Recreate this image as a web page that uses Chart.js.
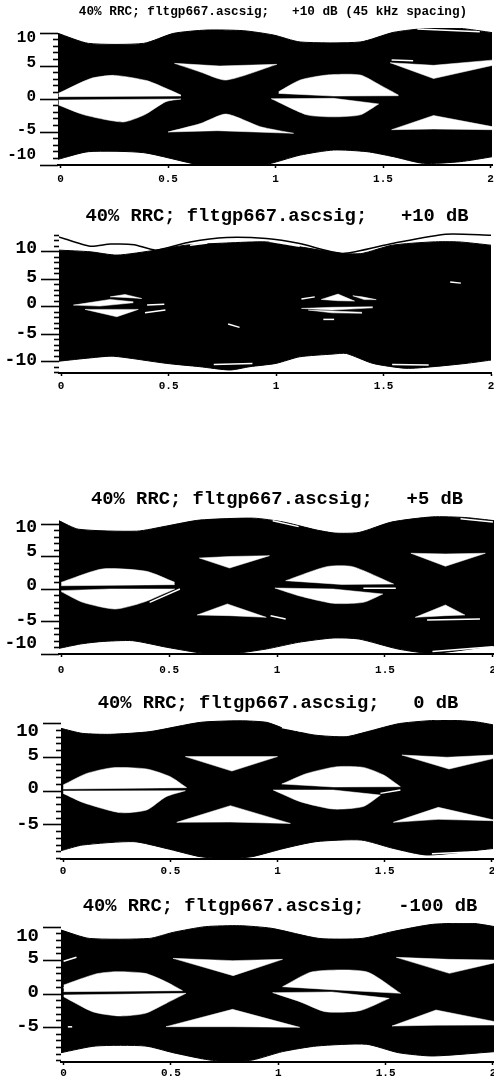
<!DOCTYPE html>
<html><head><meta charset="utf-8">
<script src="https://cdn.jsdelivr.net/npm/chart.js@4"></script>
<style>html,body{margin:0;padding:0;background:#fff;overflow:hidden;width:494px;height:1078px}canvas{position:absolute;left:0}</style>
</head><body>
<script>
// ---------- tick labels and titles ----------
const xTickValues = [0, 0.5, 1, 1.5, 2];
const p1Title = '40% RRC; fltgp667.ascsig;   +10 dB (45 kHz spacing)';
const p2Title = '40% RRC; fltgp667.ascsig;   +10 dB';
const p3Title = '40% RRC; fltgp667.ascsig;   +5 dB';
const p4Title = '40% RRC; fltgp667.ascsig;   0 dB';
const p5Title = '40% RRC; fltgp667.ascsig;   -100 dB';
const yLabelsFive = [10, 5, 0, -5, -10];
const yLabelsFour = [10, 5, 0, -5];

// ---------- panel 1 ----------
const p1OuterTop = [[-.012,9.95],[.13,8.43],[.386,8.43],[.526,9.95],[.68,10.45],[.851,10.35],[.99,9.7],[1.115,8.64],[1.394,8.64],[1.549,10.1],[1.704,10.7],[1.859,10.7],[2.01,10.05]];
const p1OuterBottom = [[-.012,-9.14],[.13,-7.98],[.386,-8.13],[.65,-10],[.774,-10],[.944,-10],[1.115,-8.5],[1.27,-7.73],[1.425,-7.98],[1.549,-8.74],[1.688,-9.75],[1.859,-9.5],[2.01,-8.74]];
const p1Holes = [
 [[[-.01,.86],[.14,3.1],[.25,3.58],[.40,2.79],[.49,1.62],[.56,.6]], [[-.01,.35],[.56,.45]]],
 [[[-.01,-.15],[.56,0]], [[-.01,-.9],[.11,-2.4],[.29,-3.48],[.39,-2.4],[.49,-.4],[.56,0]]],
 [[[.53,5.4],[.74,5.0],[1.006,5.25]], [[.53,5.4],[.65,4.1],[.77,2.87],[1.006,5.25]]],
 [[[.50,-5],[.65,-3.73],[.77,-2.28],[.93,-4.2],[1.084,-5.2]], [[.50,-5],[.73,-4.8],[1.084,-5.2]]],
 [[[1.014,1.1],[1.115,2.88],[1.24,3.64],[1.394,3.64],[1.487,2.1],[1.572,.6]], [[1.014,.85],[1.27,.45],[1.572,.5]]],
 [[[.98,.05],[1.27,.1],[1.48,-.75]], [[.98,.05],[1.146,-2.4],[1.27,-2.7],[1.394,-2.4],[1.48,-.75]]],
 [[[1.533,5.5],[1.735,5.1],[2.01,5.9]], [[1.533,5.5],[1.735,3.1],[2.01,5.1]]],
 [[[1.54,-4.65],[1.735,-2.5],[2.01,-4.2]], [[1.54,-4.65],[1.735,-4.55],[2.01,-4.65]]]
];
const p1Streaks = [[[1.66,10.6],[1.95,10.2]],[[1.54,5.9],[1.64,5.8]],[[.1,-9.3],[-.01,-9.7]]];
const p1Lines = [];

// ---------- panel 2 ----------
const p2OuterTop = [[-.01,10.3],[.135,10],[.26,9.4],[.44,10.3],[.58,11.2],[.77,11.6],[.955,11.8],[1.11,10.9],[1.31,9.7],[1.40,9.7],[1.54,11.2],[1.73,11.8],[1.85,11.8],[2.0,11.2]];
const p2OuterBottom = [[-.01,-9.9],[.135,-9.3],[.243,-9],[.49,-10.3],[.645,-10.9],[.785,-11.5],[.878,-10.9],[1.0,-10.3],[1.11,-9.1],[1.265,-8.6],[1.327,-8.5],[1.45,-10.3],[1.605,-11.2],[1.73,-10.9],[1.884,-10.3],[2.0,-9.7]];
const p2Holes = [
 [[[.057,.3],[.228,1.33],[.336,.9]], [[.057,.3],[.18,.12],[.336,.73]]],
 [[[.111,-.48],[.359,-.48]], [[.111,-.48],[.259,-1.82],[.359,-.48]]],
 [[[.228,1.8],[.297,2.24],[.375,1.5]], [[.228,1.8],[.297,1.7],[.375,1.5]]],
 [[[1.21,1.33],[1.288,2.3],[1.365,1.03]], [[1.21,1.33],[1.288,1.1],[1.365,1.03]]],
 [[[1.357,2],[1.4,1.8],[1.466,1.3]], [[1.357,2],[1.41,1.3],[1.466,1.3]]],
 [[[1.118,-.3],[1.26,-.1],[1.45,0]], [[1.118,-.3],[1.26,-.6],[1.45,-.2]]],
 [[[1.15,-.6],[1.4,-1]], [[1.15,-.6],[1.26,-1.1],[1.4,-1.2]]]
];
const p2Streaks = [[[.40,.3],[.48,.45]],[[.39,-1.1],[.485,-.6]],[[.777,-3.15],[.83,-3.75]],[[1.118,1.4],[1.18,1.8]],[[1.22,-2.3],[1.27,-2.3]],[[.71,-10.5],[.89,-10.3]],[[1.54,-10.5],[1.71,-10.6]],[[.6,11.2],[.68,11.6]],[[.97,11.9],[1.11,11]],[[1.81,4.5],[1.86,4.3]]];
const p2Lines = [[[-.01,12.7],[.135,11],[.23,11.4],[.34,11.3],[.44,10.3],[.60,11.8],[.77,12.6],[.955,12.4],[1.11,11.5],[1.31,9.7],[1.54,11.5],[1.79,13.2],[2.0,13]]];

// ---------- panel 3 ----------
const p3OuterTop = [[-.01,10.5],[.08,9.2],[.35,8.9],[.49,9.7],[.64,10.6],[.89,10.9],[1.03,10.3],[1.18,9.1],[1.27,8.6],[1.38,8.7],[1.53,10.3],[1.72,11.1],[1.87,11],[2.01,10.5]];
const p3OuterBottom = [[-.01,-9.13],[.09,-8.46],[.18,-8.1],[.33,-7.95],[.49,-8.97],[.66,-9.9],[.78,-10],[.95,-9.23],[1.10,-8.2],[1.26,-7.54],[1.38,-7.7],[1.56,-9.23],[1.72,-9.9],[2.01,-8.7]];
const p3Holes = [
 [[[0,1.03],[.19,3.08],[.395,2.72],[.526,1.03]], [[0,.5],[.526,.67]]],
 [[[0,-.25],[.226,0],[.526,0]], [[0,-.4],[.1,-2.05],[.25,-3.08],[.38,-2.05],[.526,0]]],
 [[[.64,4.77],[.78,5],[.965,5.13]], [[.64,4.77],[.78,3.23],[.965,5.13]]],
 [[[.63,-4],[.77,-2.3],[.95,-4.36]], [[.63,-4],[.78,-4.1],[.95,-4.36]]],
 [[[1.04,1.28],[1.23,3.44],[1.35,3.44],[1.54,.77]], [[1.04,1.28],[1.3,.7],[1.54,.77]]],
 [[[.99,.15],[1.26,0],[1.49,-.77]], [[.99,.15],[1.10,-1.03],[1.26,-2.2],[1.40,-2.05],[1.49,-.77]]],
 [[[1.62,5.5],[1.78,5.4],[1.965,5.5]], [[1.62,5.5],[1.78,3.5],[1.965,5.5]]],
 [[[1.64,-4.36],[1.78,-2.46],[1.87,-4]], [[1.64,-4.36],[1.78,-4.1],[1.87,-4]]]
];
const p3Streaks = [[[.41,-2.05],[.55,0]],[[.97,-4.1],[1.04,-4.6]],[[1.4,.1],[1.55,.1]],[[1.695,-4.75],[1.94,-4.6]],[[.98,10.5],[1.1,9.6]],[[1.85,10.8],[2.0,10.3]],[[1.72,-9.6],[2.0,-8.9]]];
const p3Lines = [];

// ---------- panel 4 ----------
const p4OuterTop = [[-.01,9.28],[.09,8.54],[.22,8.4],[.405,8.8],[.64,10.17],[.825,10.4],[.95,10.17],[1.03,9.28],[1.17,8.3],[1.32,8.05],[1.42,8.8],[1.57,10],[1.76,10.5],[1.92,10.27],[2.01,9.78]];
const p4OuterBottom = [[-.01,-8.84],[.09,-8],[.33,-7.5],[.48,-8.5],[.64,-9.73],[.763,-10],[.88,-9.73],[1.03,-8.5],[1.18,-7.5],[1.39,-7.26],[1.54,-8.5],[1.70,-9.48],[2.01,-8.5]];
const p4Holes = [
 [[[0,.9],[.11,2.6],[.234,3.46],[.39,3.26],[.5,2.12],[.576,.5]], [[0,.3],[.576,.5]]],
 [[[0,0],[.57,.05]], [[0,-.35],[.095,-1.73],[.265,-3.2],[.39,-2.8],[.48,-.84],[.57,.05]]],
 [[[.57,5.1],[1.0,5.1]], [[.57,5.1],[.787,2.96],[1.0,5.1]]],
 [[[.53,-4.64],[.78,-2.17],[1.06,-4.8]], [[.53,-4.64],[.78,-4.6],[1.06,-4.8]]],
 [[[1.02,1.04],[1.137,2.6],[1.277,3.6],[1.40,3.5],[1.495,2.37],[1.573,.64]], [[1.02,1.04],[1.26,.6],[1.573,.64]]],
 [[[.98,.15],[1.26,.15],[1.48,-.6]], [[.98,.15],[1.106,-1.58],[1.26,-2.67],[1.40,-2.3],[1.48,-.6]]],
 [[[1.58,5.33],[1.79,5],[2.01,5.33]], [[1.58,5.33],[1.8,3.26],[2.01,4.84]]],
 [[[1.54,-4.64],[1.75,-2.42],[2.01,-4.3]], [[1.54,-4.64],[1.75,-4.2],[2.01,-4.4]]]
];
const p4Streaks = [[[1.48,-.35],[1.573,.15]],[[1.02,9.4],[1.12,8.8]],[[1.72,-9.3],[2.0,-8.9]]];
const p4Lines = [];

// ---------- panel 5 ----------
const p5OuterTop = [[-.012,9.55],[.12,8.3],[.4,8.3],[.51,9.2],[.66,10.05],[.82,10.2],[.97,9.8],[1.19,8.3],[1.39,8.3],[1.53,9.3],[1.72,10.4],[1.905,10.55],[2.01,10.05]];
const p5OuterBottom = [[-.012,-8.76],[.15,-7.76],[.38,-7.76],[.51,-8.76],[.66,-9.75],[.756,-10.1],[.88,-9.85],[1.02,-8.6],[1.18,-7.76],[1.41,-7.5],[1.56,-8.76],[1.72,-9.25],[2.01,-8.6]];
const p5Holes = [
 [[[0,1.34],[.15,2.99],[.244,3.33],[.38,3.08],[.477,1.84],[.554,.5]], [[0,.35],[.554,.5]]],
 [[[0,-.15],[.57,.1]], [[0,-.4],[.135,-2.64],[.26,-3.28],[.38,-2.89],[.477,-1.4],[.57,.1]]],
 [[[.51,5.32],[.787,4.98],[1.02,5.17]], [[.51,5.32],[.79,2.74],[1.02,5.17]]],
 [[[.477,-4.88],[.787,-2.29],[1.1,-4.98]], [[.477,-4.88],[.787,-4.88],[1.1,-4.98]]],
 [[[1.02,1.09],[1.16,3.33],[1.41,3.33],[1.57,.1]], [[1.02,1.09],[1.25,.65],[1.57,.1]]],
 [[[.974,.2],[1.25,.3],[1.517,-.65]], [[.974,.2],[1.1,-1.14],[1.22,-2.64],[1.38,-2.49],[1.517,-.65]]],
 [[[1.55,5.47],[1.797,5.17],[2.01,5.07]], [[1.55,5.47],[1.797,3.08],[2.01,4.68]]],
 [[[1.53,-4.78],[1.735,-2.39],[2.01,-4.13]], [[1.53,-4.78],[1.735,-4.65],[2.01,-4.63]]]
];
const p5Streaks = [[[0,4.9],[.06,5.5]],[[0,.9],[.07,1.7]],[[.02,-4.9],[.04,-4.9]]];
const p5Lines = [];

// ---------- page layout of the five stacked plots ----------
const panels = [
 {title:p1Title,top:p1OuterTop,bottom:p1OuterBottom,holes:p1Holes,streaks:p1Streaks,lines:p1Lines,labels:yLabelsFive,shift:{10:5,5:-3,0:-2,'-5':-2,'-10':-10},
  canvasTop:0,areaTop:28,areaBottom:165,left:58,right:492,xMin:-.012,xMax:2.007,yMin:-10,yMax:10.76,tickTop:10,titleCx:273,titleCy:12,titleSize:12.7,tickSize:16,xPad:5},
 {title:p2Title,top:p2OuterTop,bottom:p2OuterBottom,holes:p2Holes,streaks:p2Streaks,lines:p2Lines,labels:yLabelsFive,shift:{10:-3,5:-2,0:-3,'-5':-1,'-10':-1},
  canvasTop:196,areaTop:232,areaBottom:373,left:59,right:491,xMin:-.01,xMax:2.0,yMin:-12.05,yMax:13.6,tickTop:13,titleCx:277,titleCy:216,titleSize:18.8,tickSize:18,xPad:4},
 {title:p3Title,top:p3OuterTop,bottom:p3OuterBottom,holes:p3Holes,streaks:p3Streaks,lines:p3Lines,labels:yLabelsFive,shift:{10:3,5:-5,0:-4,'-5':-1.5,'-10':-11},
  canvasTop:470,areaTop:514,areaBottom:654,left:59,right:494,xMin:-.01,xMax:2.005,yMin:-10,yMax:11.54,tickTop:10,titleCx:277,titleCy:499,titleSize:18.8,tickSize:18,xPad:7},
 {title:p4Title,top:p4OuterTop,bottom:p4OuterBottom,holes:p4Holes,streaks:p4Streaks,lines:p4Lines,labels:yLabelsFour,shift:{10:8,5:-2,0:-3,'-5':-1},
  canvasTop:680,areaTop:720,areaBottom:859,left:61,right:493,xMin:-.01,xMax:2.005,yMin:-10.07,yMax:10.52,tickTop:10,titleCx:278,titleCy:703,titleSize:18.8,tickSize:19,xPad:3},
 {title:p5Title,top:p5OuterTop,bottom:p5OuterBottom,holes:p5Holes,streaks:p5Streaks,lines:p5Lines,labels:yLabelsFour,shift:{10:9,5:-2,0:-2,'-5':-1},
  canvasTop:885,areaTop:923,areaBottom:1062,left:61,right:494,xMin:-.012,xMax:2.005,yMin:-10.15,yMax:10.6,tickTop:10,titleCx:280,titleCy:906,titleSize:18.8,tickSize:19,xPad:2}
];

const MONO = '"Liberation Mono", monospace';
const pts = a => a.map(([x, y]) => ({x, y}));
const base = {pointRadius: 0, pointHoverRadius: 0, tension: 0, showLine: true, fill: false};
const curve = a => a.length > 3 ? {tension: 0.22} : {};
const noAxisPadding = s => { s.paddingLeft = s.paddingRight = s.paddingTop = s.paddingBottom = 0; };

const titlePlacer = {
  id: 'titlePlacer',
  afterLayout(chart) {
    const c = chart.options.plugins.titlePlacer.cx, t = chart.titleBlock;
    if (t) { t.left = 0; t.right = 2 * c; }
  }
};

panels.forEach(p => {
  const ds = [];
  p.streaks.forEach(s => ds.push({...base, data: pts(s), borderColor: '#fff', borderWidth: 1.5}));
  p.lines.forEach(s => ds.push({...base, ...curve(s), data: pts(s), borderColor: '#000', borderWidth: 1.5}));
  p.holes.forEach(([upper, lower]) => {
    ds.push({...base, ...curve(upper), data: pts(upper), borderColor: '#fff', borderWidth: 0.5});
    ds.push({...base, ...curve(lower), data: pts(lower), borderColor: '#fff', borderWidth: 0.5, fill: '-1', backgroundColor: '#fff'});
  });
  ds.push({...base, ...curve(p.top), data: pts(p.top), borderColor: '#000', borderWidth: 1});
  ds.push({...base, ...curve(p.bottom), data: pts(p.bottom), borderColor: '#000', borderWidth: 1, fill: '-1', backgroundColor: '#000'});

  const axisH = 24;
  const cv = document.createElement('canvas');
  const h = p.areaBottom + axisH - p.canvasTop;
  cv.width = 494; cv.height = h;
  cv.style.top = p.canvasTop + 'px';
  cv.style.width = '494px'; cv.style.height = h + 'px';
  document.body.appendChild(cv);

  const padTop = p.titleCy - p.canvasTop - p.titleSize / 2;
  const padBottom = p.areaTop - p.canvasTop - padTop - p.titleSize;
  const minorTicks = [];
  for (let v = Math.ceil(p.yMin); v <= p.tickTop; v++) minorTicks.push(v);
  const isMajor = v => p.labels.includes(v);

  new Chart(cv, {
    type: 'line',
    data: {datasets: ds},
    plugins: [titlePlacer],
    options: {
      responsive: false, animation: false, devicePixelRatio: 1,
      layout: {padding: {left: 0, right: 494 - p.right, top: 0, bottom: 0}},
      plugins: {
        legend: {display: false}, tooltip: {enabled: false},
        titlePlacer: {cx: p.titleCx},
        title: {display: true, text: p.title, color: '#000',
          font: {family: MONO, size: p.titleSize, weight: 'bold', lineHeight: 1},
          padding: {top: padTop, bottom: padBottom}}
      },
      scales: {
        x: {
          type: 'linear', min: p.xMin, max: p.xMax,
          afterBuildTicks: s => { s.ticks = xTickValues.map(value => ({value})); },
          afterFit: s => { s.height = axisH; noAxisPadding(s); },
          border: {display: true, color: '#000', width: 2},
          grid: {drawOnChartArea: false, drawTicks: true, tickLength: 3, tickColor: '#000', tickWidth: 1.5},
          ticks: {autoSkip: false, maxRotation: 0, padding: p.xPad, color: '#000',
            font: {family: MONO, size: 11, weight: 'bold'}, callback: v => String(v)}
        },
        y: {
          type: 'linear', min: p.yMin, max: p.yMax,
          afterBuildTicks: s => { s.ticks = minorTicks.map(value => ({value})); },
          afterFit: s => { s.width = p.left; noAxisPadding(s); },
          border: {display: false},
          grid: {drawOnChartArea: false, drawTicks: true, tickLength: 18, tickColor: '#000', tickWidth: 1.6,
            tickBorderDash: c => isMajor(c.tick.value) ? [] : [5, 100],
            tickBorderDashOffset: c => isMajor(c.tick.value) ? 0 : -13},
          ticks: {autoSkip: false, padding: 4, color: '#000',
            font: c => ({family: MONO, size: p.tickSize, weight: 'bold', lineHeight: (Math.abs(p.shift[c.tick ? c.tick.value : 0] || 0) * 2 || p.tickSize) + 'px'}),
            callback: v => {
              if (!isMajor(v)) return '';
              const s = p.shift[v] || 0;
              if (s > 0) return ['', String(v)];
              if (s < 0) return [String(v), ''];
              return String(v);
            }}
        }
      }
    }
  });
});
</script>
</body></html>
